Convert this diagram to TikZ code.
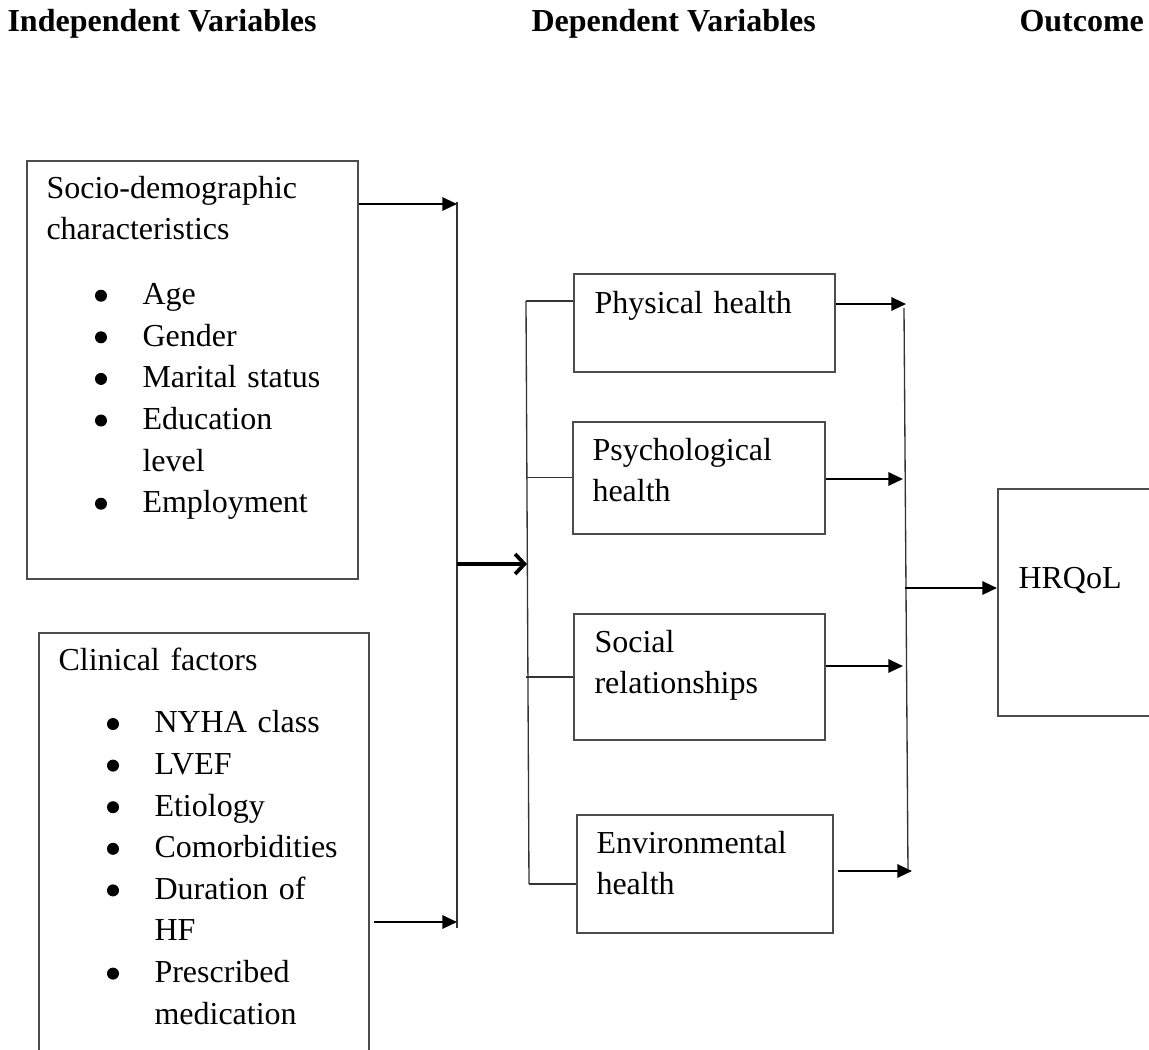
\documentclass[tikz,border=0pt]{standalone}
\usepackage{fontspec}
\setmainfont{Liberation Serif}
\usetikzlibrary{arrows.meta}
\newcommand{\bitem}[1]{\hspace*{36pt}#1}

\begin{document}
\begin{tikzpicture}[x=0.375pt,y=-0.375pt,
  box/.style={draw=black!70, line width=0.6pt, anchor=north west, inner sep=0pt},
  txt/.style={anchor=base west, inner sep=0pt, align=left, font=\fontsize{12}{15.6}\selectfont},
  head/.style={anchor=base west, inner sep=0pt, font=\fontsize{12}{14}\selectfont\bfseries},
  bus/.style={line width=0.5pt, black!80},
  arr/.style={line width=0.8pt, -{Triangle[length=5.5pt,width=5pt]}},
  barb/.style={line width=1.4pt, -{Straight Barb[length=3.5pt,width=7.5pt]}}]
\useasboundingbox (0,0) rectangle (1149,1049);
\clip (0,0) rectangle (1149,1049);
%HEADINGS
\node[head] (hind) at (7,31) {Independent Variables};
\node[head] (hdep) at (531,31) {Dependent Variables};
\node[head] (hout) at (1019,31) {Outcome};
%LEFT
\node[box, minimum width=124.1pt, minimum height=156.8pt] (socio) at (26,160) {};
\node[txt, text width=115pt] (sociotxt) at (46,198) {Socio-demographic\\
  characteristics\\[8.8pt]
  \bitem{Age}\\ \bitem{Gender}\\ \bitem{Marital status}\\
  \bitem{Education}\\ \bitem{level}\\ \bitem{Employment}};
\foreach \y in {295.7,337.3,378.9,420.5,503.7}
  \fill (101,\y) circle (2.25pt);
\node[box, minimum width=123.8pt, minimum height=165pt] (clin) at (38,632) {};
\node[txt, text width=115pt] (clintxt) at (58,670) {Clinical factors\\[8pt]
  \bitem{NYHA class}\\ \bitem{LVEF}\\ \bitem{Etiology}\\
  \bitem{Comorbidities}\\ \bitem{Duration of}\\ \bitem{HF}\\
  \bitem{Prescribed}\\ \bitem{medication}};
\foreach \y in {724,765.6,807.2,848.8,890.4,973.6}
  \fill (113,\y) circle (2.25pt);
%MIDDLE
\node[box, minimum width=97.9pt, minimum height=36.8pt] (phys) at (573,273) {};
\node[txt, text width=90pt] (phystxt) at (594,313) {Physical health};
\node[box, minimum width=94.5pt, minimum height=42pt] (psych) at (572,421) {};
\node[txt, text width=88pt] (psychtxt) at (592,460) {Psychological\\ health};
\node[box, minimum width=94.1pt, minimum height=47.3pt] (social) at (573,613) {};
\node[txt, text width=88pt] (socialtxt) at (594,652) {Social\\ relationships};
\node[box, minimum width=96pt, minimum height=44.3pt] (env) at (576,814) {};
\node[txt, text width=90pt] (envtxt) at (596,853) {Environmental\\ health};
%RIGHT
\node[box, minimum width=75pt, minimum height=85.1pt] (hrqol) at (997,488) {};
\node[txt, text width=60pt] (hrqoltxt) at (1018,588) {HRQoL};
% buses
\coordinate (lbt) at (457,202);
\coordinate (lbb) at (457,928);
\coordinate (mbt) at (526,301);
\coordinate (mbb) at (529,884);
\coordinate (rbt) at (904,308);
\coordinate (rbb) at (908,870);
\draw[bus] (lbt) -- (lbb);
\draw[bus] (mbt) -- (mbb);
\draw[bus] (rbt) -- (rbb);
% into the left bus
\coordinate (ls) at (457,204);
\coordinate (lc) at (457,922);
\draw[arr] (socio.east |- ls) -- (ls);
\draw[arr] ([xshift=1.5pt]clin.east |- lc) -- (lc);
\coordinate (hub) at (527,564);
\draw[barb] (lbt |- hub) -- (hub);
% branches
\draw[bus] (mbt) -- (mbt -| phys.west);
\draw[bus] (mbt |- psych.west) -- (psych.west);
\draw[bus] (mbt |- social.west) -- (social.west);
\draw[bus] (mbb) -- (mbb -| env.west);
% into the right bus
\coordinate (r1) at (906,304);
\coordinate (r2) at (903,479);
\coordinate (r3) at (903,666);
\coordinate (r4) at (912,871);
\draw[arr] (phys.east |- r1) -- (r1);
\draw[arr] (psych.east |- r2) -- (r2);
\draw[arr] (social.east |- r3) -- (r3);
\draw[arr] ([xshift=1.5pt]env.east |- r4) -- (r4);
\coordinate (rh) at (905,588);
\draw[arr] (rh) -- (rh -| hrqol.west);
\end{tikzpicture}
\end{document}
